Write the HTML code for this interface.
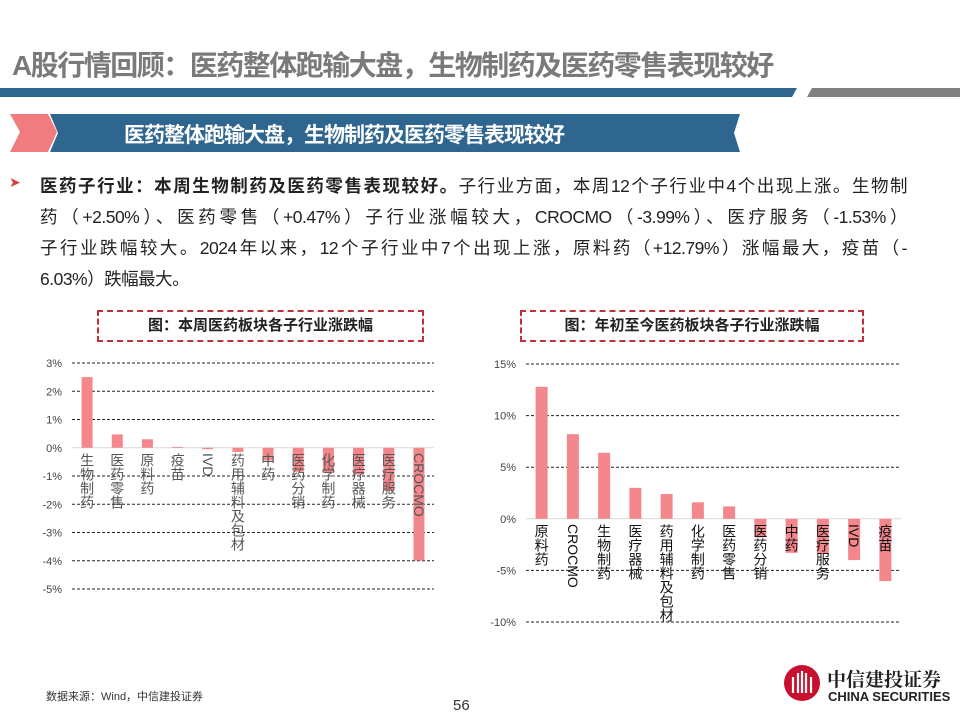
<!DOCTYPE html>
<html><head><meta charset="utf-8"><style>
body{margin:0;width:960px;height:720px;position:relative;background:#fff;overflow:hidden;font-family:"Liberation Sans","Noto Sans CJK SC",sans-serif}
.abs{position:absolute}
.line{position:absolute;left:40px;width:867px;font-size:17.5px;color:#222;text-align:justify;text-align-last:justify;white-space:nowrap;letter-spacing:-0.5px}
.vl{position:absolute;writing-mode:vertical-rl;font-size:14px;line-height:14px;letter-spacing:0px}
.ttl{position:absolute;border:2px dashed #c0303a;font-size:15px;font-weight:bold;color:#222;text-align:center;line-height:28px;height:28px}
</style></head><body>
<div class="abs" style="left:12px;top:44px;font-size:28px;font-weight:bold;color:#7a7a7a;letter-spacing:-1.5px">A股行情回顾：医药整体跑输大盘，生物制药及医药零售表现较好</div>
<svg class="abs" style="left:0;top:0" width="960" height="160">
<polygon points="0,88 797,88 792,97 0,97" fill="#2f6690"/>
<polygon points="812,88 960,88 960,97 807,97" fill="#808080"/>
<polygon points="10,114 48,114 57,132 48,152 10,152 20,132" fill="#f07c80"/>
<polygon points="50,114 740,114 734,133 740,152 50,152 58,133" fill="#2f6690"/>
</svg>
<div class="abs" style="left:124px;top:119px;font-size:21px;font-weight:bold;color:#fff;letter-spacing:-1px">医药整体跑输大盘，生物制药及医药零售表现较好</div>
<div class="abs" style="left:9px;top:174px;color:#d04040;font-size:14px">➤</div>
<div class="line" style="top:173px"><b>医药子行业：本周生物制药及医药零售表现较好。</b>子行业方面，本周12个子行业中4个出现上涨。生物制</div>
<div class="line" style="top:204px">药（+2.50%）、医药零售（+0.47%）子行业涨幅较大，CROCMO（-3.99%）、医疗服务（-1.53%）</div>
<div class="line" style="top:235px">子行业跌幅较大。2024年以来，12个子行业中7个出现上涨，原料药（+12.79%）涨幅最大，疫苗（-</div>
<div class="line" style="top:266px;text-align-last:left">6.03%）跌幅最大。</div>
<div class="ttl" style="left:97px;top:310px;width:323px">图：本周医药板块各子行业涨跌幅</div>
<div class="ttl" style="left:520px;top:310px;width:340px">图：年初至今医药板块各子行业涨跌幅</div>
<svg id="c1" class="abs" style="left:0;top:0" width="960" height="720"></svg>
<div id="l1"></div><div id="l2"></div>
<div class="abs" style="left:46px;top:688px;font-size:11px;color:#333">数据来源：Wind，中信建投证券</div>
<div class="abs" style="left:453px;top:697px;font-size:15px;color:#333">56</div>
<svg class="abs" style="left:782px;top:663px" width="40" height="40">
<circle cx="20" cy="20" r="18" fill="#c8102e"/>
<path d="M11 30V14M16 30V10M20 30V8M24 30V10M29 30V14" stroke="#fff" stroke-width="2.2"/>
</svg>
<div class="abs" style="left:827px;top:665px;font-size:19px;font-weight:bold;color:#222;font-family:'Noto Serif CJK SC',serif">中信建投证券</div>
<div class="abs" style="left:828px;top:689px;font-size:13px;font-weight:bold;color:#222">CHINA SECURITIES</div>
<script>
const cats1=["生物制药","医药零售","原料药","疫苗","IVD","药用辅料及包材","中药","医药分销","化学制药","医疗器械","医疗服务","CROCMO"];
const vals1=[2.50,0.47,0.30,0.03,-0.05,-0.15,-0.45,-0.85,-0.9,-0.95,-1.53,-3.99];
const ticks1=[3,2,1,0,-1,-2,-3,-4,-5];
const cats2=["原料药","CROCMO","生物制药","医疗器械","药用辅料及包材","化学制药","医药零售","医药分销","中药","医疗服务","IVD","疫苗"];
const vals2=[12.79,8.2,6.4,3.0,2.4,1.6,1.2,-1.8,-3.3,-3.4,-4.0,-6.03];
const ticks2=[15,10,5,0,-5,-10];
const svg=document.getElementById('c1');const NS="http://www.w3.org/2000/svg";
function mk(t,a){const e=document.createElementNS(NS,t);for(const k in a)e.setAttribute(k,a[k]);svg.appendChild(e);return e;}
function chart(o){
 const y=v=>o.y0+(o.max-v)*(o.y1-o.y0)/(o.max-o.min);
 o.ticks.forEach(t=>{
  const l=mk('line',{x1:o.x0,x2:o.x1,y1:y(t),y2:y(t),stroke:t===0?'#d9d9d9':'#222','stroke-dasharray':t===0?'':'3,2','stroke-width':1});
  
  
  const tx=mk('text',{x:o.x0-10,y:y(t)+4,'text-anchor':'end','font-size':11,fill:'#444','font-family':'Liberation Sans'});
  tx.textContent=t+'%';
  
  
 });
 const step=(o.x1-o.x0)/o.cats.length;
 o.vals.forEach((v,i)=>{
  const cx=o.x0+step*(i+0.5);const top=Math.min(y(v),y(0));
  const r=mk('rect',{x:cx-o.bw/2,y:top,width:o.bw,height:Math.max(Math.abs(y(v)-y(0)),0.8),fill:'#f4878b'});
  
  
  const d=document.createElement('div');d.className='vl';d.textContent=o.cats[i];
  d.style.left=(cx-7)+'px';d.style.top=(y(0)+5)+'px';d.style.color=o.lc;
  
  
  document.getElementById(o.lid).appendChild(d);
 });
}
chart({cats:cats1,vals:vals1,ticks:ticks1,max:3,min:-5,y0:363,y1:589,x0:72,x1:434,bw:11,lc:'#555',lid:'l1'});
chart({cats:cats2,vals:vals2,ticks:ticks2,max:15,min:-10,y0:364,y1:622,x0:526,x1:901,bw:12,lc:'#111',lid:'l2'});
</script>
</body></html>
